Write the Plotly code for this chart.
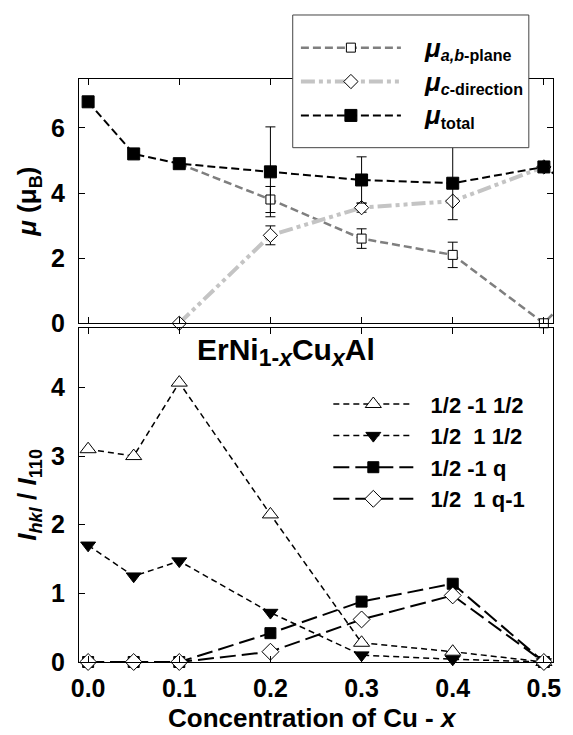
import plotly.graph_objects as go

# Cu concentration x in ErNi(1-x)Cu(x)Al
conc = [0.0, 0.05, 0.1, 0.2, 0.3, 0.4, 0.5, 0.6]

# ordered magnetic moments (mu_B) with their uncertainties
mu_ab = [None, None, 4.9, 3.8, 2.6, 2.1, 0.0, 2.9]
mu_ab_err = [None, None, None, 0.4, 0.3, 0.39, None, None]
mu_c = [None, None, 0.0, 2.7, 3.55, 3.75, 4.8, None]
mu_c_err = [None, None, None, 0.29, 0.14, None, None, None]
mu_total = [6.8, 5.2, 4.9, 4.65, 4.4, 4.3, 4.8, 2.9]
mu_total_err = [None, None, None, 1.38, 0.71, 1.12, None, None]

# relative intensities I_hkl / I_110
conc_i = [0.0, 0.05, 0.1, 0.2, 0.3, 0.4, 0.5]
i_half_m1_half = [3.1, 3.0, 4.07, 2.15, 0.28, 0.15, 0.0]
i_half_1_half = [1.7, 1.25, 1.47, 0.72, 0.1, 0.04, 0.0]
i_half_m1_q = [0.0, 0.0, 0.0, 0.42, 0.88, 1.14, 0.0]
i_half_1_qm1 = [0.0, 0.0, 0.0, 0.15, 0.62, 0.97, 0.0]

MU = '<span style="font-size:26px"><i>μ</i></span>'
labels_top = [MU + "<sub><i>a,b</i>-plane</sub>",
              MU + "<sub><i>c</i>-direction</sub>",
              MU + "<sub>total</sub>"]
labels_bottom = ["1/2 -1 1/2", "1/2  1 1/2", "1/2 -1 q", "1/2  1 q-1"]

FONT = "Liberation Sans, Arial, sans-serif"
NB = "\u00a0"


def pad(text, n):
    return NB * n + text.replace("  ", NB + NB)


def err(arr):
    return dict(type="data", array=arr, color="black", thickness=1, width=5)


fig = go.Figure()

fig.add_trace(go.Scatter(
    x=conc, y=mu_ab, name=pad(labels_top[0], 3), mode="lines+markers",
    line=dict(color="#7f7f7f", width=2.5, dash="8px,4px"),
    marker=dict(symbol="square", size=9, color="white",
                line=dict(color="black", width=1)),
    error_y=err(mu_ab_err), cliponaxis=False,
    xaxis="x", yaxis="y", legend="legend", legendgroup="a"))
fig.add_trace(go.Scatter(
    x=conc, y=mu_c, name=pad(labels_top[1], 3), mode="lines+markers",
    line=dict(color="#c4c4c4", width=4, dash="14px,4px,4px,4px,4px,4px"),
    marker=dict(symbol="diamond", size=11, color="white",
                line=dict(color="black", width=1)),
    error_y=err(mu_c_err), cliponaxis=False,
    xaxis="x", yaxis="y", legend="legend", legendgroup="b"))
fig.add_trace(go.Scatter(
    x=conc, y=mu_total, name=pad(labels_top[2], 3), mode="lines+markers",
    line=dict(color="black", width=2, dash="8px,4px"),
    marker=dict(symbol="square", size=12, color="black",
                line=dict(color="black", width=1)),
    error_y=err(mu_total_err), cliponaxis=False,
    xaxis="x", yaxis="y", legend="legend", legendgroup="c"))

bottom_styles = [
    (i_half_m1_half, "triangle-up", "white", 14, "6px,4px", 1.5),
    (i_half_1_half, "triangle-down", "black", 13, "6px,4px", 1.5),
    (i_half_m1_q, "square", "black", 11, "16px,6px", 2),
    (i_half_1_qm1, "diamond", "white", 13, "16px,6px", 2),
]
for k, (vals, sym, fill, size, dash, lw) in enumerate(bottom_styles):
    fig.add_trace(go.Scatter(
        x=conc_i, y=vals, name=pad(labels_bottom[k], 2), mode="lines+markers",
        line=dict(color="black", width=lw, dash=dash),
        marker=dict(symbol=sym, size=size, color=fill,
                    line=dict(color="black", width=1)),
        cliponaxis=False, xaxis="x2", yaxis="y2", legend="legend2"))

tickfont = dict(family=FONT, size=25, color="black", weight="bold")
titlefont = dict(family=FONT, size=26, color="black", weight="bold")

common_x = dict(range=[-0.01, 0.51], dtick=0.1, tick0=0, showline=True,
                linecolor="black", linewidth=1, ticks="inside", ticklen=6,
                tickcolor="black", mirror="ticks", showgrid=False,
                zeroline=False, tickfont=tickfont, tickformat=".1f")
common_y = dict(showline=True, linecolor="black", linewidth=1,
                ticks="inside", ticklen=6, tickcolor="black",
                showgrid=False, zeroline=False, tickfont=tickfont,
                ticklabelstandoff=8)

SUB = '<sub><span style="font-size:23px">%s</span></sub>'
compound = "ErNi" + SUB % "1-<i>x</i>" + "Cu" + SUB % "<i>x</i>" + "Al"

fig.update_layout(
    width=573, height=735,
    margin=dict(l=79, r=15, t=79, b=73),
    paper_bgcolor="white", plot_bgcolor="white",
    showlegend=True,
    font=dict(family=FONT, color="black"),
    xaxis=dict(common_x, domain=[0, 1], anchor="y", showticklabels=False),
    yaxis=dict(common_y, domain=[0.581, 1], range=[0, 7.5], dtick=2,
               mirror="ticks",
               title=dict(text="<i>μ</i> (μ<sub>B</sub>)", font=titlefont,
                          standoff=6)),
    xaxis2=dict(common_x, domain=[0, 1], anchor="y2", ticklabelstandoff=4),
    yaxis2=dict(common_y, domain=[0, 0.5734], range=[0, 4.87], dtick=1,
                mirror=True,
                title=dict(text="<i>I<sub>hkl</sub></i> / <i>I</i><sub>110</sub>",
                           font=titlefont, standoff=6)),
    legend=dict(x=0.4576, y=0.9954, xanchor="left", yanchor="middle",
                bgcolor="rgba(0,0,0,0)", borderwidth=0,
                font=dict(family=FONT, size=23, color="black", weight="bold"),
                itemwidth=100, tracegroupgap=1, traceorder="grouped",
                itemsizing="trace"),
    legend2=dict(x=0.526, y=0.3607, xanchor="left", yanchor="middle",
                 bgcolor="rgba(0,0,0,0)", borderwidth=0,
                 font=dict(family=FONT, size=22, color="black", weight="bold"),
                 itemwidth=80, traceorder="normal", itemsizing="trace"),
    # white framed panel behind the moment legend
    shapes=[dict(type="rect", xref="paper", yref="paper",
                 x0=0.4509, x1=0.949, y0=0.8822, y1=1.1098,
                 fillcolor="white", line=dict(color="#444444", width=1),
                 layer="above")],
    annotations=[
        dict(text=compound, xref="paper", yref="paper", x=0.436, y=0.567,
             xanchor="center", yanchor="top", showarrow=False,
             font=dict(family=FONT, size=30, color="black", weight="bold")),
        dict(text="Concentration of Cu - <i>x</i>", xref="paper",
             yref="paper", x=0.493, y=-0.096, xanchor="center",
             yanchor="middle", showarrow=False, font=titlefont),
    ],
)

fig.write_html("out.html")
